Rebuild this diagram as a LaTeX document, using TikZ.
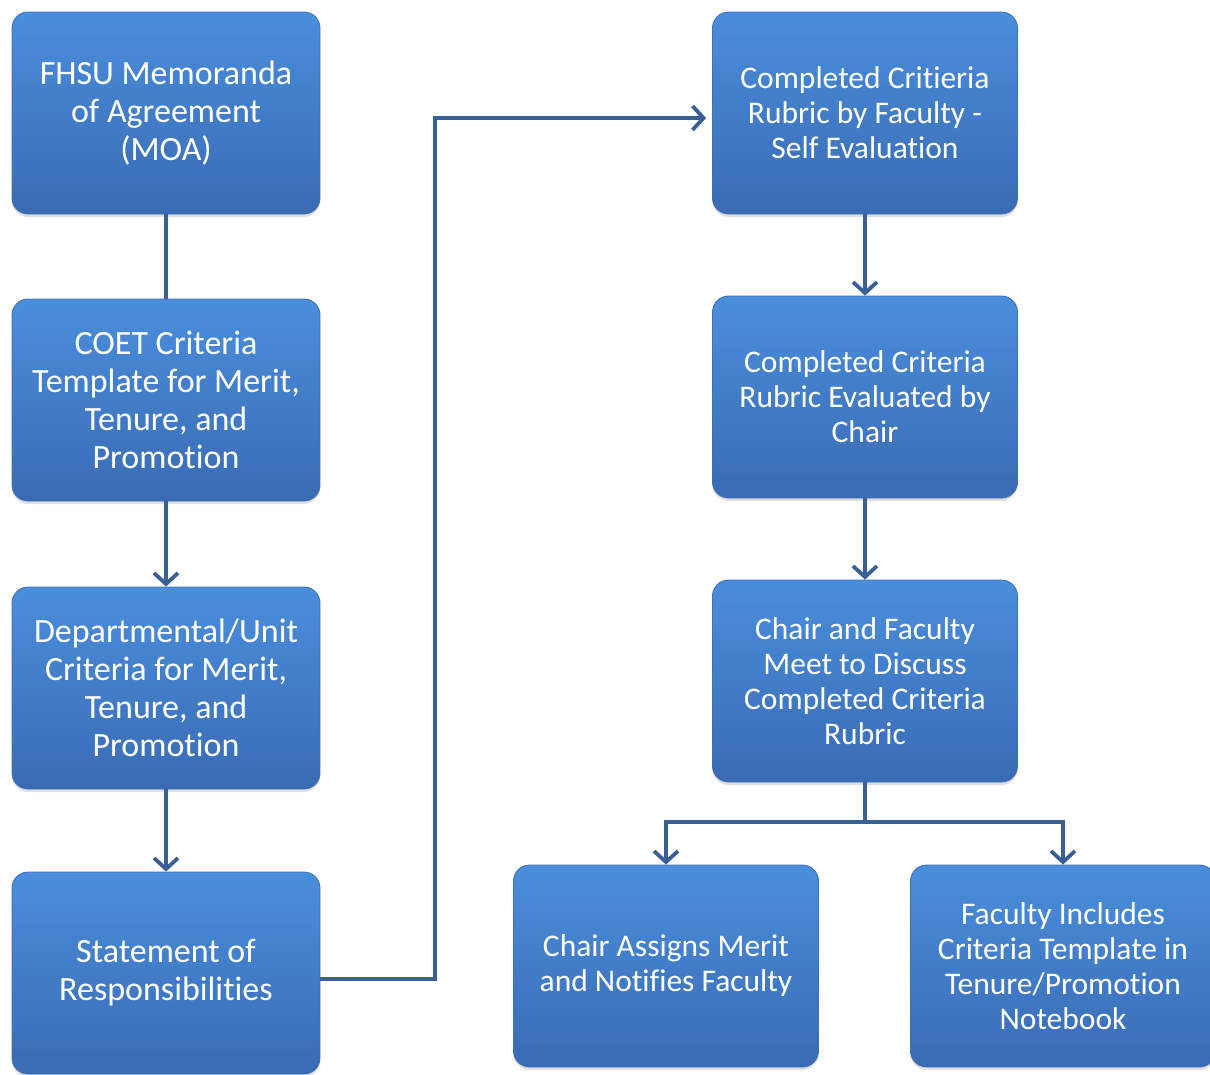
\documentclass[tikz,border=0pt]{standalone}
\usepackage{fontspec}
\setmainfont{Carlito}[Ligatures={NoCommon}]
\usetikzlibrary{arrows.meta,shadows}
\definecolor{boxtop}{HTML}{4A8EDC}
\definecolor{boxbot}{HTML}{3A6BB4}
\definecolor{boxedge}{HTML}{3C6FB6}
\definecolor{linec}{HTML}{3A5F96}
\tikzset{
  flowbox/.style={rectangle, rounded corners=16pt, draw=boxedge, line width=0.8pt,
    top color=boxtop, bottom color=boxbot, text=white, align=center,
    inner sep=0pt, drop shadow={opacity=0.25, shadow xshift=0pt, shadow yshift=-3pt}},
  leftbox/.style={flowbox, minimum width=308pt, minimum height=202pt,
    font=\fontsize{34}{38}\selectfont},
  rightbox/.style={flowbox, minimum width=305pt, minimum height=202pt,
    font=\fontsize{31.5}{35}\selectfont},
  conn/.style={draw=linec, line width=3.8pt},
  arr/.style={conn, -{Straight Barb[length=11pt,width=24pt,line width=3.8pt]}},
}
\begin{document}
\begin{tikzpicture}[x=1pt,y=-1pt]
\useasboundingbox (0,0) rectangle (1210,1074);
% left column
\node[leftbox] (l1) at (166,113) {FHSU Memoranda\\of Agreement\\(MOA)};
\node[leftbox] (l2) at (166,400) {COET Criteria\\Template for Merit,\\Tenure, and\\Promotion};
\node[leftbox] (l3) at (166,688) {Departmental/Unit\\Criteria for Merit,\\Tenure, and\\Promotion};
\node[leftbox] (l4) at (166,973) {Statement of\\Responsibilities};
% right column
\node[rightbox] (r1) at (865,113) {Completed Critieria\\Rubric by Faculty -\\Self Evaluation};
\node[rightbox] (r2) at (865,397) {Completed Criteria\\Rubric Evaluated by\\Chair};
\node[rightbox] (r3) at (865,681) {Chair and Faculty\\Meet to Discuss\\Completed Criteria\\Rubric};
\node[rightbox] (b1) at (666,966) {Chair Assigns Merit\\and Notifies Faculty};
\node[rightbox] (b2) at (1063,966) {Faculty Includes\\Criteria Template in\\Tenure/Promotion\\Notebook};
% connectors
\draw[conn] (l1.south) -- (l2.north);
\draw[arr] (l2.south) -- (l3.north);
\draw[arr] (l3.south) -- (l4.north);
\coordinate (jt) at (435,118);
\draw[arr, shorten >=6pt] ([yshift=-6pt]l4.east) -| (jt) -- ([yshift=-5pt]r1.west);
\draw[arr] (r1.south) -- (r2.north);
\draw[arr] (r2.south) -- (r3.north);
\coordinate (sp) at (865,822);
\draw[conn] (r3.south) -- (sp);
\draw[arr] (sp) -| (b1.north);
\draw[arr] (sp) -| (b2.north);
\end{tikzpicture}
\end{document}
